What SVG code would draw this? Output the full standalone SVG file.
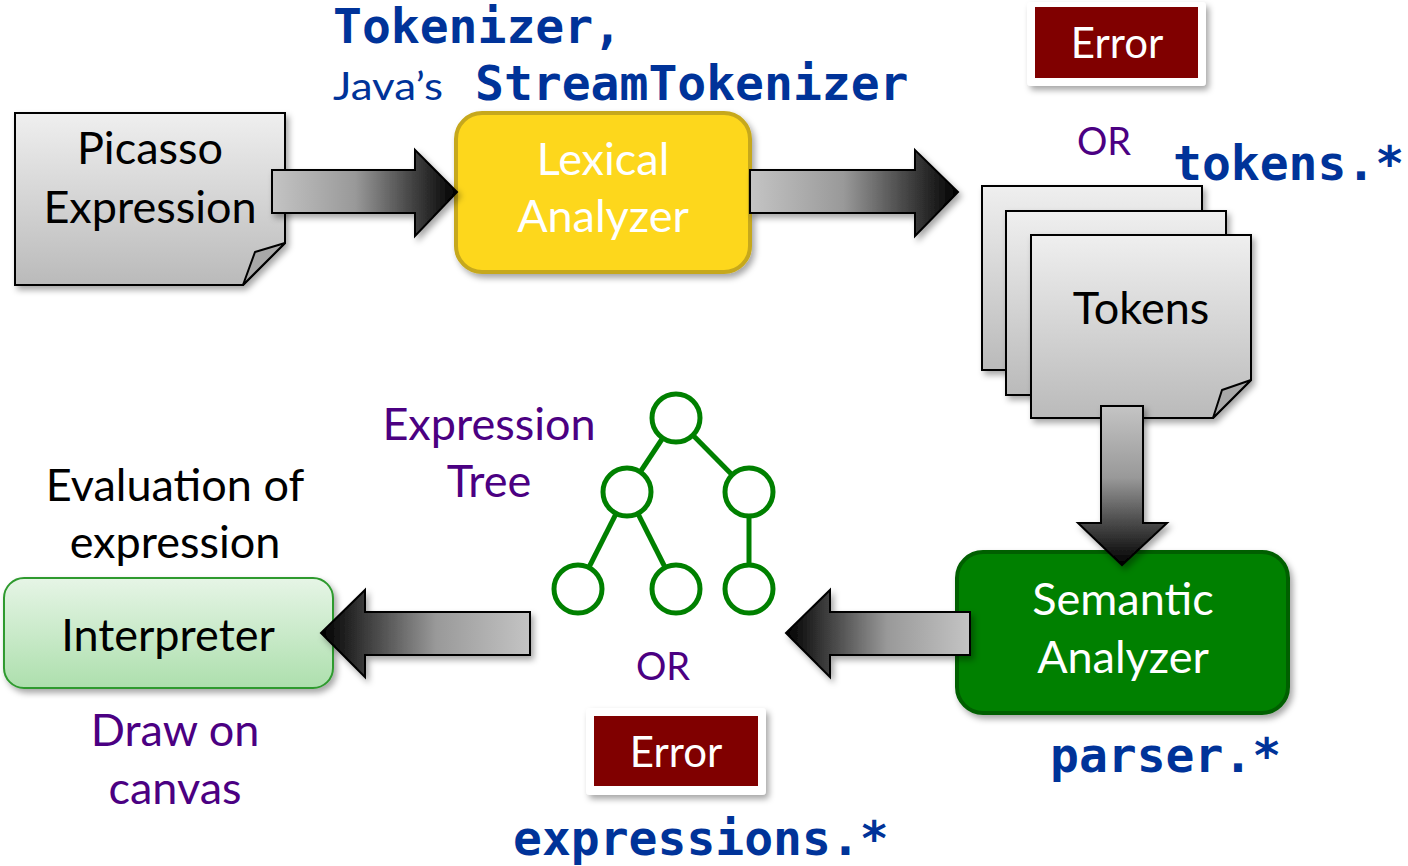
<svg xmlns="http://www.w3.org/2000/svg" width="1408" height="866" viewBox="0 0 1408 866">
<defs>
<filter id="sh" x="-10%" y="-10%" width="130%" height="130%">
<feDropShadow dx="3" dy="4" stdDeviation="3" flood-color="#000" flood-opacity="0.35"/>
</filter>
<linearGradient id="gR" x1="0" y1="0" x2="1" y2="0">
<stop offset="0" stop-color="#c4c4c4"/><stop offset="0.45" stop-color="#999"/><stop offset="1" stop-color="#000"/>
</linearGradient>
<linearGradient id="gL" x1="1" y1="0" x2="0" y2="0">
<stop offset="0" stop-color="#c4c4c4"/><stop offset="0.45" stop-color="#999"/><stop offset="1" stop-color="#000"/>
</linearGradient>
<linearGradient id="gD" x1="0" y1="0" x2="0" y2="1">
<stop offset="0" stop-color="#c4c4c4"/><stop offset="0.45" stop-color="#999"/><stop offset="1" stop-color="#000"/>
</linearGradient>
<linearGradient id="gDoc" x1="0" y1="0" x2="0" y2="1">
<stop offset="0" stop-color="#efefef"/><stop offset="1" stop-color="#bababa"/>
</linearGradient>
<linearGradient id="gInt" x1="0" y1="0" x2="0" y2="1">
<stop offset="0" stop-color="#e6f5e6"/><stop offset="1" stop-color="#addfad"/>
</linearGradient>
<style>
.sans{font-family:Lato,"Open Sans","Liberation Sans",sans-serif;}
.mono{font-family:"DejaVu Sans Mono","Liberation Mono",monospace;font-weight:bold;fill:#003399;font-size:48px;}
.doc{fill:url(#gDoc);stroke:#000;stroke-width:2;}
.fold{fill:#a8a8a8;stroke:#000;stroke-width:2;stroke-linejoin:round;}
.arrow{stroke:#000;stroke-width:2;stroke-linejoin:miter;}
.purple{fill:#4b0082;}
.lbl{font-size:45px;text-anchor:middle;}
.or{font-size:38px;}
.err{font-size:42px;}
.circ{fill:#fff;stroke:#008000;stroke-width:5;}
.edge{stroke:#008000;stroke-width:5;}
</style>
</defs>

<!-- top labels -->
<text class="mono" x="333" y="43">Tokenizer,</text>
<text class="sans" x="333" y="100" font-size="39" fill="#003399" textLength="110" lengthAdjust="spacingAndGlyphs">Java’s</text>
<text class="mono" x="475" y="100">StreamTokenizer</text>

<g id="picasso">
<path class="doc" filter="url(#sh)" d="M15,113 H285 V243 L243,285 H15 Z"/>
<path class="fold" d="M285,243 L255,252 L243,285 Z"/>
<text class="sans lbl" x="150" y="164" fill="#000">Picasso</text>
<text class="sans lbl" x="150" y="223" fill="#000">Expression</text>
</g>

<g id="lexical">
<rect x="456" y="113" width="294" height="159" rx="26" fill="#fdd71d" stroke="#c6a81c" stroke-width="4" filter="url(#sh)"/>
<text class="sans lbl" x="603" y="175" fill="#fff">Lexical</text>
<text class="sans lbl" x="603" y="232" fill="#fff">Analyzer</text>
</g>

<g id="error-top">
<rect x="1027" y="2" width="179" height="84" rx="4" fill="#fff" filter="url(#sh)"/>
<rect x="1035" y="7" width="163" height="71" fill="#800000"/>
<text class="sans lbl err" x="1117" y="58" fill="#fff">Error</text>
</g>
<text class="sans lbl purple or" x="1104" y="155">OR</text>
<text class="mono" x="1173" y="180">tokens.*</text>

<g id="tokens">
<rect class="doc" x="982" y="186" width="220" height="184" filter="url(#sh)"/>
<rect class="doc" x="1006" y="211" width="220" height="184" filter="url(#sh)"/>
<path class="doc" filter="url(#sh)" d="M1031,235 H1251 V380 L1213,418 H1031 Z"/>
<path class="fold" d="M1251,380 L1222,390 L1213,418 Z"/>
<text class="sans lbl" x="1141" y="324" fill="#000">Tokens</text>
</g>

<g id="semantic">
<rect x="957" y="552" width="331" height="161" rx="26" fill="#008000" stroke="#005f00" stroke-width="4" filter="url(#sh)"/>
<text class="sans lbl" x="1123" y="615" fill="#fff">Semantic</text>
<text class="sans lbl" x="1123" y="673" fill="#fff">Analyzer</text>
</g>

<g id="tree">
<line class="edge" x1="676" y1="418" x2="627" y2="492"/>
<line class="edge" x1="676" y1="418" x2="749" y2="492"/>
<line class="edge" x1="627" y1="492" x2="578" y2="589"/>
<line class="edge" x1="627" y1="492" x2="676" y2="589"/>
<line class="edge" x1="749" y1="492" x2="749" y2="589"/>
<circle class="circ" cx="676" cy="418" r="24"/>
<circle class="circ" cx="627" cy="492" r="24"/>
<circle class="circ" cx="749" cy="492" r="24"/>
<circle class="circ" cx="578" cy="589" r="24"/>
<circle class="circ" cx="676" cy="589" r="24"/>
<circle class="circ" cx="749" cy="589" r="24"/>
</g>
<text class="sans lbl purple" x="489" y="440">Expression</text>
<text class="sans lbl purple" x="489" y="497">Tree</text>
<text class="sans lbl purple or" x="663" y="680">OR</text>

<g id="error-bottom">
<rect x="586" y="708" width="180" height="87" rx="4" fill="#fff" filter="url(#sh)"/>
<rect x="594" y="716" width="164" height="70" fill="#800000"/>
<text class="sans lbl err" x="676" y="767" fill="#fff">Error</text>
</g>
<text class="mono" x="513" y="855">expressions.*</text>
<text class="mono" x="1050" y="772">parser.*</text>

<g id="interpreter">
<rect x="4" y="578" width="329" height="110" rx="20" fill="url(#gInt)" stroke="#2f9a2f" stroke-width="2" filter="url(#sh)"/>
<text class="sans lbl" x="168" y="651" fill="#000">Interpreter</text>
</g>
<text class="sans lbl" x="175" y="501" fill="#000">Evaluation of</text>
<text class="sans lbl" x="175" y="558" fill="#000">expression</text>
<text class="sans lbl purple" x="175" y="746">Draw on</text>
<text class="sans lbl purple" x="175" y="804">canvas</text>

<g id="connectors">
<path class="arrow" fill="url(#gR)" filter="url(#sh)" d="M272,170 H415 V150 L457,192 L415,236 V213 H272 Z"/>
<path class="arrow" fill="url(#gR)" filter="url(#sh)" d="M750,170 H915 V150 L958,192 L915,236 V213 H750 Z"/>
<path class="arrow" fill="url(#gD)" filter="url(#sh)" d="M1101,406 H1143 V523 H1167 L1122,565 L1078,523 H1101 Z"/>
<path class="arrow" fill="url(#gL)" filter="url(#sh)" d="M970,612 H830 V590 L786,633 L830,677 V655 H970 Z"/>
<path class="arrow" fill="url(#gL)" filter="url(#sh)" d="M530,612 H365 V590 L321,633 L365,677 V655 H530 Z"/>
</g>
</svg>
